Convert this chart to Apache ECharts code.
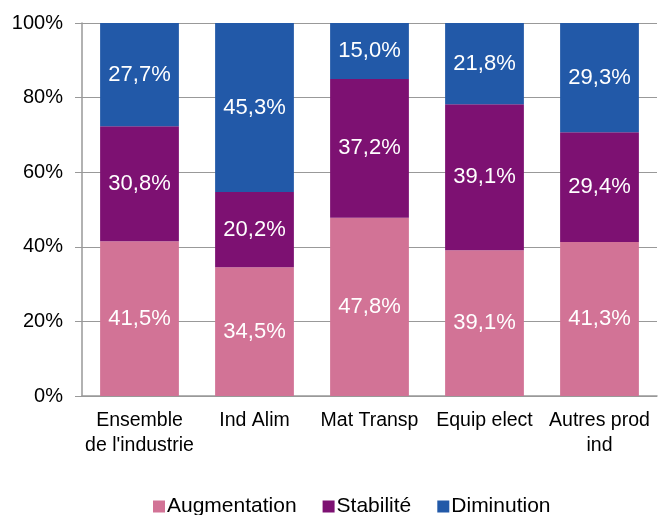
<!DOCTYPE html>
<html><head><meta charset="utf-8">
<script src="https://cdn.jsdelivr.net/npm/echarts@6/dist/echarts.min.js"></script>
<style>html,body{margin:0;padding:0;background:#fff}#c{width:660px;height:515px}</style>
</head><body><div id="c"></div>
<script>
const categories = ["Ensemble\nde l'industrie", "Ind Alim", "Mat Transp", "Equip elect", "Autres prod\nind"];
const augmentation = [41.5, 34.5, 47.8, 39.1, 41.3];
const stabilite = [30.8, 20.2, 37.2, 39.1, 29.4];
const diminution = [27.7, 45.3, 15.0, 21.8, 29.3];
const yTicks = [0, 20, 40, 60, 80, 100];

const font = "'Liberation Sans', Arial, sans-serif";
const lbl = {
  show: true, position: 'inside', color: '#fff', fontSize: 22, fontFamily: font,
  formatter: p => p.value.toFixed(1).replace('.', ',') + '%'
};
function mk(name, data, color) {
  return { name, type: 'bar', stack: 't', data, barWidth: '68.5%',
    itemStyle: { color }, label: lbl, emphasis: { disabled: true } };
}
const chart = echarts.init(document.getElementById('c'));
chart.setOption({
  animation: false,
  grid: { left: 82, top: 23, right: 3, bottom: 119, containLabel: false },
  legend: {
    top: 491, left: 148, itemWidth: 12, itemHeight: 12, itemGap: 26,
    textStyle: { fontSize: 21, fontFamily: font, color: '#000', padding: [0, 0, 0, -3] },
    icon: 'rect',
    data: ['Augmentation', 'Stabilité', 'Diminution']
  },
  xAxis: {
    type: 'category', data: categories,
    axisLine: { lineStyle: { color: '#999', width: 1.5 } },
    axisTick: { show: false },
    axisLabel: { fontSize: 19.5, fontFamily: font, color: '#000', margin: 12, lineHeight: 25, interval: 0 }
  },
  yAxis: {
    type: 'value', min: 0, max: 100, interval: 20,
    axisLine: { show: true, lineStyle: { color: '#999', width: 1.5 } },
    axisTick: { show: true, length: 7, lineStyle: { color: '#999' } },
    splitLine: { lineStyle: { color: '#999', width: 1.2 } },
    axisLabel: { fontSize: 20, fontFamily: font, color: '#000', margin: 19,
      formatter: v => yTicks.includes(v) ? v + '%' : '' }
  },
  series: [
    mk('Augmentation', augmentation, '#D27396'),
    mk('Stabilité', stabilite, '#7D1172'),
    mk('Diminution', diminution, '#2259A8')
  ]
});
</script></body></html>
